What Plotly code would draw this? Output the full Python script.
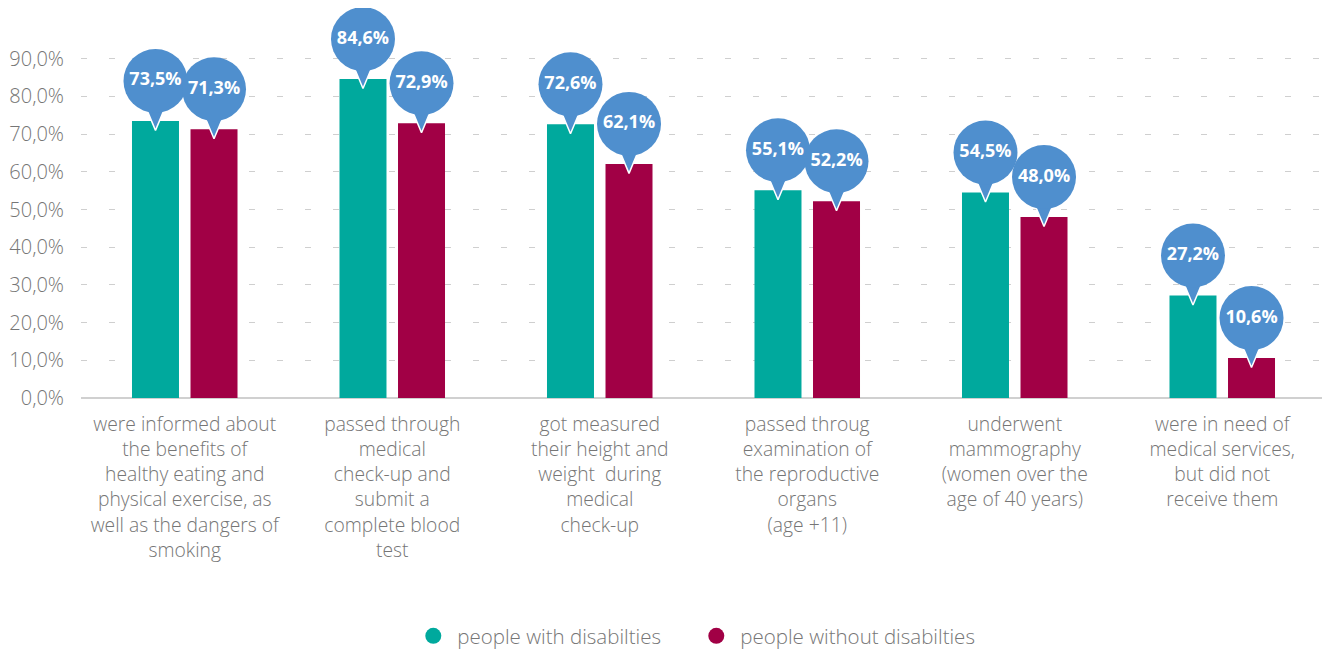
import plotly.graph_objects as go

categories = [
    "were informed about<br>the benefits of<br>healthy eating and<br>physical exercise, as<br>well as the dangers of<br>smoking",
    "passed through<br>medical<br>check-up and<br>submit a<br>complete blood<br>test",
    "got measured<br>their height and<br>weight  during<br>medical<br>check-up",
    "passed throug<br>examination of<br>the reproductive<br>organs<br>(age +11)",
    "underwent<br>mammography<br>(women over the<br>age of 40 years)",
    "were in need of<br>medical services,<br>but did not<br>receive them",
]
with_dis = [73.5, 84.6, 72.6, 55.1, 54.5, 27.2]
without_dis = [71.3, 72.9, 62.1, 52.2, 48.0, 10.6]
series_names = ["people with disabilties", "people without disabilties"]
tick_vals = [0, 10, 20, 30, 40, 50, 60, 70, 80, 90]
tick_text = ["0,0%", "10,0%", "20,0%", "30,0%", "40,0%", "50,0%", "60,0%", "70,0%", "80,0%", "90,0%"]

TEAL = "#00A99D"
WINE = "#A10045"
BUBBLE = "#4F8FCE"
GRAY = "#767676"
FONT = "Open Sans"

offset = 0.141
bar_w = 0.2265

fig = go.Figure()


def bubble(values, xs):
    # pointer triangle under the bubble
    tx, ty = [], []
    for x, v in zip(xs, values):
        tx += [x - 0.0434, x + 0.0434, x, x - 0.0434, None]
        ty += [v + 3.19, v + 3.19, v - 2.52, v + 3.19, None]
    fig.add_trace(go.Scatter(x=tx, y=ty, mode="lines", fill="toself",
                             fillcolor=BUBBLE, line=dict(color="white", width=1.5),
                             showlegend=False, hoverinfo="skip", cliponaxis=False))
    fig.add_trace(go.Scatter(
        x=xs, y=[v + 10.6 for v in values], mode="markers+text",
        marker=dict(size=64, color=BUBBLE, line=dict(width=0)),
        text=[f"{v:.1f}%".replace(".", ",") for v in values],
        textposition="middle center",
        textfont=dict(family=FONT, size=18, color="white", weight="bold"),
        showlegend=False, hoverinfo="skip", cliponaxis=False))


x_with = [i - offset for i in range(len(categories))]
x_without = [i + offset for i in range(len(categories))]

fig.add_trace(go.Bar(x=x_with, y=with_dis, width=bar_w, marker=dict(color=TEAL, line=dict(width=0)),
                     name=series_names[0], showlegend=False))
fig.add_trace(go.Bar(x=x_without, y=without_dis, width=bar_w, marker=dict(color=WINE, line=dict(width=0)),
                     name=series_names[1], showlegend=False))

bubble(with_dis, x_with)
bubble(without_dis, x_without)

# legend entries with round markers
for name, col in zip(series_names, [TEAL, WINE]):
    fig.add_trace(go.Scatter(x=[None], y=[None], mode="markers", name=name,
                             marker=dict(size=20, color=col, symbol="circle")))

fig.update_layout(
    width=1330, height=649,
    margin=dict(l=73, r=12, t=13, b=259),
    plot_bgcolor="white", paper_bgcolor="white",
    font=dict(family=FONT, size=19, color=GRAY, weight=300),
    showlegend=True,
    legend=dict(orientation="h", x=0.491, xanchor="center",
                yref="container", y=0.0324, yanchor="middle",
                font=dict(family=FONT, size=20.5, color=GRAY, weight=300),
                itemsizing="trace", itemwidth=38, entrywidth=230),
    xaxis=dict(range=[-0.5, 5.5], tickvals=list(range(len(categories))), ticktext=categories,
               showgrid=False, zeroline=False, showline=False, automargin=False,
               ticks="outside", ticklen=9, tickcolor="rgba(0,0,0,0)",
               tickfont=dict(family=FONT, size=19.3, color=GRAY, weight=300)),
    yaxis=dict(range=[0, 100], tickvals=tick_vals, ticktext=tick_text, automargin=False,
               showgrid=True, gridcolor="#CFCFCF", griddash="6px,22px", gridwidth=1,
               zeroline=True, zerolinecolor="#D0D0D0", zerolinewidth=2,
               showline=False, ticks="outside", ticklen=12, tickcolor="rgba(0,0,0,0)",
               tickfont=dict(family=FONT, size=20, color=GRAY, weight=300)),
)

fig.write_html("out.html")
